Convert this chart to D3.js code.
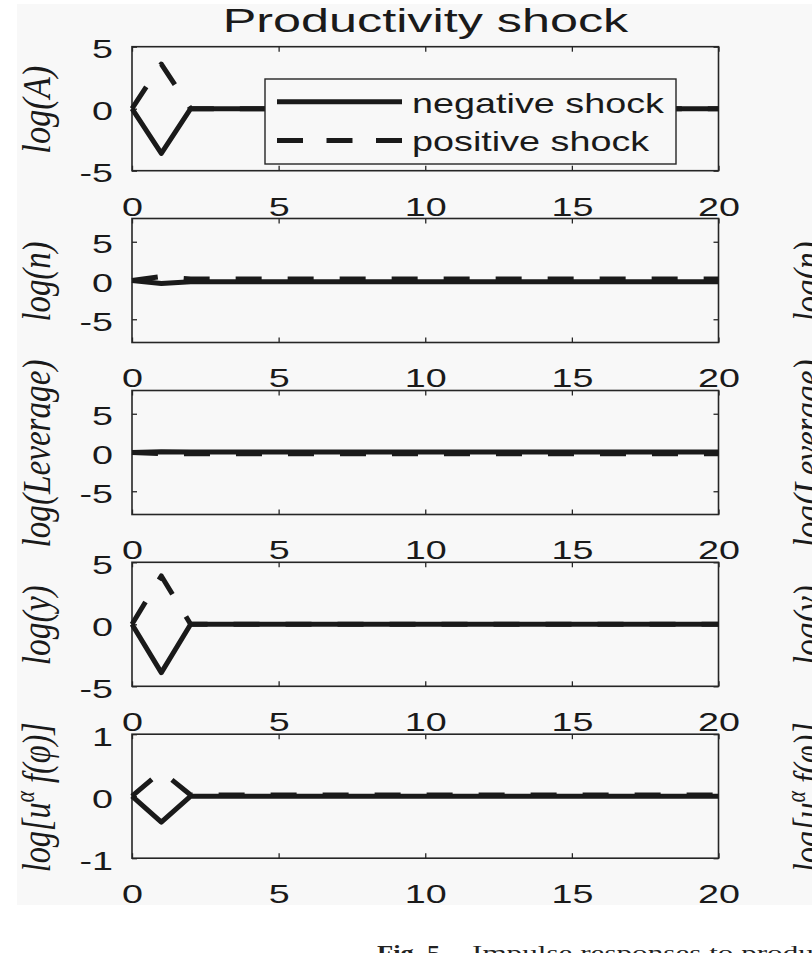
<!DOCTYPE html>
<html><head><meta charset="utf-8">
<script src="https://cdn.jsdelivr.net/npm/d3@7"></script>
<style>html,body{margin:0;padding:0;background:#fff;overflow:hidden}</style>
</head><body>
<svg id="c" width="812" height="953"></svg>
<script>
// ---------- data ----------
const periods = [0,1,2,3,4,5,6,7,8,9,10,11,12,13,14,15,16,17,18,19,20];
const xTicks = [0,5,10,15,20];
const chartTitle = "Productivity shock";
const seriesNames = ["negative shock", "positive shock"];

const negA = [0,-3.6,0,0,0,0,0,0,0,0,0,0,0,0,0,0,0,0,0,0,0];
const posA = [0,3.6,0,0,0,0,0,0,0,0,0,0,0,0,0,0,0,0,0,0,0];
const negN = [0,-0.4,-0.15,-0.15,-0.15,-0.15,-0.15,-0.15,-0.15,-0.15,-0.15,-0.15,-0.15,-0.15,-0.15,-0.15,-0.15,-0.15,-0.15,-0.15,-0.15];
const posN = [0,0.5,0.2,0.2,0.2,0.2,0.2,0.2,0.2,0.2,0.2,0.2,0.2,0.2,0.2,0.2,0.2,0.2,0.2,0.2,0.2];
const negL = [0,0.1,0.05,0.05,0.05,0.05,0.05,0.05,0.05,0.05,0.05,0.05,0.05,0.05,0.05,0.05,0.05,0.05,0.05,0.05,0.05];
const posL = [0,-0.15,-0.15,-0.15,-0.15,-0.15,-0.15,-0.15,-0.15,-0.15,-0.15,-0.15,-0.15,-0.15,-0.15,-0.15,-0.15,-0.15,-0.15,-0.15,-0.15];
const negY = [0,-3.9,0,0,0,0,0,0,0,0,0,0,0,0,0,0,0,0,0,0,0];
const posY = [0,3.9,0,0,0,0,0,0,0,0,0,0,0,0,0,0,0,0,0,0,0];
const negU = [0,-0.42,0,0,0,0,0,0,0,0,0,0,0,0,0,0,0,0,0,0,0];
const posU = [0,0.4,0.02,0.02,0.02,0.02,0.02,0.02,0.02,0.02,0.02,0.02,0.02,0.02,0.02,0.02,0.02,0.02,0.02,0.02,0.02];

const yDomains = [[-5,5],[-8,8],[-8,8],[-5,5],[-1,1]];
const yTickVals = [[-5,0,5],[-5,0,5],[-5,0,5],[-5,0,5],[-1,0,1]];
const yTickLabels = [["-5","0","5"],["-5","0","5"],["-5","0","5"],["-5","0","5"],["-1","0","1"]];
const panelLabels = [
  [["log(A)"]],
  [["log(n)"]],
  [["log(Leverage)"]],
  [["log(y)"]],
  [["log[u"],["α",1],[" f(φ)]",-1]]
];
const negSeries = [negA, negN, negL, negY, negU];
const posSeries = [posA, posN, posL, posY, posU];
const captionBold = "Fig. 5.";
const captionText = "Impulse responses to productivity shock.";

// ---------- layout ----------
const svg = d3.select("#c");
const BG = "#f8f8f8", INK = "#1a1a1a", FRAME = "#262626";
const L = 132, R = 718.5, H = 124;
const tops = [46.7, 218.5, 390.5, 562.3, 734.2];
const SX = 1.45;
const sansFont = "'Liberation Sans', Arial, Helvetica, sans-serif";
const serifFont = "'Liberation Serif', 'Times New Roman', serif";

svg.append("rect").attr("x",17).attr("y",4).attr("width",812-17).attr("height",905-4).attr("fill",BG);

const x = d3.scaleLinear().domain([0,20]).range([L,R]);

// title
const tt = svg.append("text").attr("x",0).attr("y",32).attr("text-anchor","middle")
  .attr("font-family",sansFont).attr("font-size",34).attr("fill",INK).text(chartTitle);
tt.attr("transform",`translate(425.5,0) scale(1.48,1)`);

function vlabel(parts, bx, cy, len) {
  const t = svg.append("text").attr("font-family",serifFont).attr("font-style","italic")
    .attr("font-size",28).attr("text-anchor","middle").attr("fill",INK);
  parts.forEach(p => {
    const ts = t.append("tspan").text(p[0]);
    if (p[1] === 1) ts.attr("font-size",19).attr("dy",-11);
    else if (p[1] === -1) ts.attr("dy",11);
  });
  const w = t.node().getComputedTextLength();
  t.attr("transform",`translate(${bx},${cy}) scale(1.45,${len / w}) rotate(-90)`);
}
const labelLens = [88, 80, 188, 80, 150];

const line = d3.line().x((d,i)=>x(periods[i])).y(d=>d);

tops.forEach((top, i) => {
  const y = d3.scaleLinear().domain(yDomains[i]).range([top+H, top]);
  const g = svg.append("g");
  const tickStyle = sel => { sel.select(".domain").remove(); sel.selectAll("line").attr("stroke",FRAME).attr("stroke-width",1.3); };
  const bx = g.append("g").attr("transform",`translate(0,${top+H})`)
    .call(d3.axisBottom(x).tickValues(xTicks).tickSizeInner(-5).tickSizeOuter(0)).call(tickStyle);
  bx.attr("font-family",sansFont).attr("font-size",26);
  bx.selectAll("text").attr("y",45).attr("dy",null).attr("fill",INK).attr("transform",`scale(${SX},1)`);
  g.append("g").attr("transform",`translate(0,${top})`)
    .call(d3.axisTop(x).tickValues(xTicks).tickSizeInner(-5).tickSizeOuter(0)).call(tickStyle)
    .selectAll("text").remove();
  const ly = g.append("g").attr("transform",`translate(${L},0)`)
    .call(d3.axisLeft(y).tickValues(yTickVals[i]).tickFormat((d,k)=>yTickLabels[i][k]).tickSizeInner(-5).tickSizeOuter(0)).call(tickStyle);
  ly.attr("font-family",sansFont).attr("font-size",26);
  ly.selectAll("text").attr("x",-19/SX).attr("dy",null).attr("y",11).attr("fill",INK).attr("transform",`scale(${SX},1)`);
  g.append("g").attr("transform",`translate(${R},0)`)
    .call(d3.axisRight(y).tickValues(yTickVals[i]).tickSizeInner(-5).tickSizeOuter(0)).call(tickStyle)
    .selectAll("text").remove();
  g.append("rect").attr("x",L).attr("y",top).attr("width",R-L).attr("height",H)
    .attr("fill","none").attr("stroke",FRAME).attr("stroke-width",1.6);
  g.append("path").attr("d",line(negSeries[i].map(v=>y(v)))).attr("fill","none")
    .attr("stroke",INK).attr("stroke-width",5).attr("stroke-linejoin","round");
  g.append("path").attr("d",line(posSeries[i].map(v=>y(v)))).attr("fill","none")
    .attr("stroke",INK).attr("stroke-width",5).attr("stroke-linejoin","round")
    .attr("stroke-dasharray","26,26");
  const cy = top + H/2 + 1;
  vlabel(panelLabels[i], 50, cy, labelLens[i]);
  if (i > 0) vlabel(panelLabels[i], 821, cy, labelLens[i]);
});

// legend
const lg = svg.append("g");
lg.append("rect").attr("x",265).attr("y",79).attr("width",676-265).attr("height",164-79)
  .attr("fill",BG).attr("stroke",FRAME).attr("stroke-width",1.4);
const legY = [101.7, 140.5];
seriesNames.forEach((name, k) => {
  const p = lg.append("line").attr("x1",277).attr("x2",402).attr("y1",legY[k]).attr("y2",legY[k])
    .attr("stroke",INK).attr("stroke-width",5);
  if (k === 1) p.attr("stroke-dasharray","26,23.5");
  lg.append("text").attr("x",0).attr("y",legY[k]+11).attr("font-family",sansFont)
    .attr("font-size",27).attr("fill",INK).text(name);
});
const legTexts = lg.selectAll("text").nodes();
const lsx = 252 / legTexts[0].getComputedTextLength();
legTexts.forEach(n => d3.select(n).attr("transform",`translate(412,0) scale(${lsx},1)`));

// caption
const c1 = svg.append("text").attr("x",0).attr("y",960).attr("font-family",serifFont)
  .attr("font-size",22).attr("font-weight","bold").attr("fill","#222").text(captionBold);
const c1s = 70 / c1.node().getComputedTextLength();
c1.attr("transform",`translate(377,0) scale(${c1s},1)`);
const c2 = svg.append("text").attr("x",0).attr("y",960).attr("font-family",serifFont)
  .attr("font-size",22).attr("fill","#222").text(captionText);
const prefixLen = c2.node().getSubStringLength(0, "Impulse responses to produ".length);
const c2s = 342 / prefixLen;
c2.attr("transform",`translate(472,0) scale(${c2s},1)`);
</script>
</body></html>
